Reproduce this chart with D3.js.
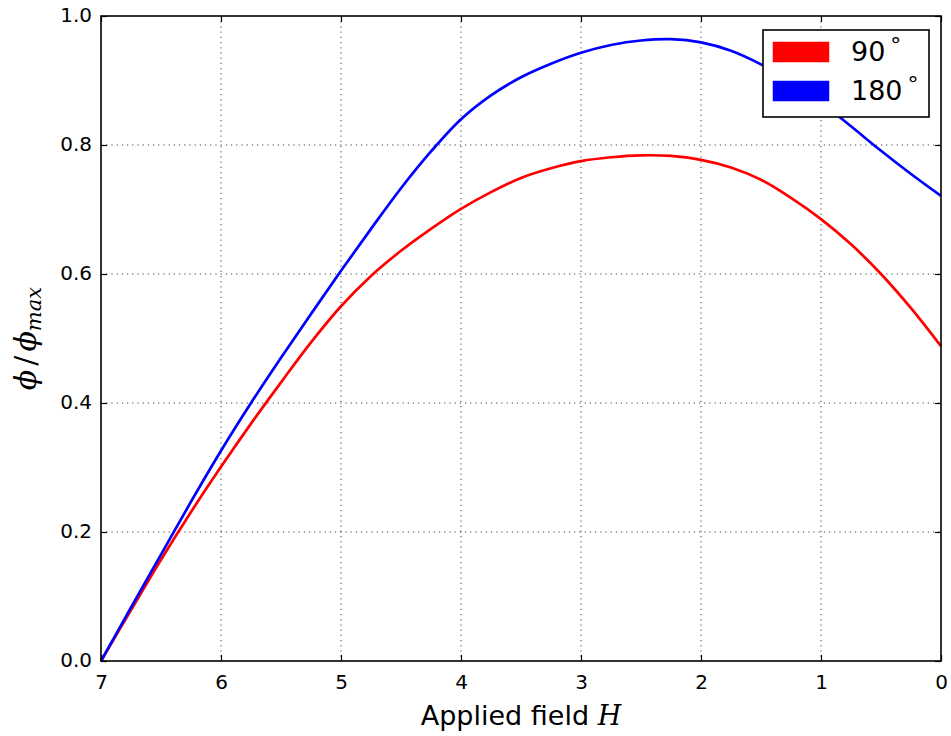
<!DOCTYPE html>
<html>
<head>
<meta charset="utf-8">
<script src="https://cdn.jsdelivr.net/npm/d3@7"></script>
<style>
  html, body { margin: 0; padding: 0; background: #fff; }
  svg { display: block; }
</style>
</head>
<body>
<svg id="chart" width="951" height="736"></svg>
<script>
// Applied field values (the axis runs from 7 down to 0)
const appliedField = [7, 6.75, 6.5, 6.25, 6, 5.75, 5.5, 5.25, 5, 4.75, 4.5, 4.25, 4,
  3.75, 3.5, 3.25, 3, 2.75, 2.5, 2.25, 2, 1.75, 1.5, 1.25, 1, 0.75, 0.5, 0.25, 0];

// Normalised flux for the 90 degree configuration
const phi90 = [0, 0.079, 0.157, 0.231, 0.301, 0.368, 0.432, 0.494, 0.550, 0.597, 0.636,
  0.670, 0.701, 0.727, 0.749, 0.764, 0.775, 0.781, 0.784, 0.783, 0.777, 0.765, 0.746,
  0.718, 0.685, 0.646, 0.600, 0.547, 0.488];

// Normalised flux for the 180 degree configuration
const phi180 = [0, 0.083, 0.165, 0.247, 0.326, 0.400, 0.470, 0.538, 0.605, 0.670, 0.733,
  0.790, 0.840, 0.877, 0.905, 0.926, 0.943, 0.955, 0.962, 0.964, 0.959, 0.946, 0.925,
  0.899, 0.866, 0.829, 0.791, 0.755, 0.721];

const xTicks = [7, 6, 5, 4, 3, 2, 1, 0];
const yTicks = [0, 0.2, 0.4, 0.6, 0.8, 1.0];

const seriesNames = ["90", "180"];
const seriesColors = ["#ff0000", "#0000ff"];

const svg = d3.select("#chart");
const m = { left: 101, right: 941, top: 16, bottom: 661 };

const x = d3.scaleLinear().domain([7, 0]).range([m.left, m.right]);
const y = d3.scaleLinear().domain([0, 1]).range([m.bottom, m.top]);

const tickFont = "DejaVu Sans, sans-serif";
const mathFont = "DejaVu Serif, Liberation Serif, serif";

// Dotted grid
const grid = svg.append("g");
grid.selectAll("line.gx").data(xTicks.slice(1, -1)).join("line")
  .attr("x1", d => x(d)).attr("x2", d => x(d))
  .attr("y1", m.top).attr("y2", m.bottom)
  .attr("stroke", "#000").attr("stroke-width", 1)
  .attr("stroke-dasharray", "1.2,4").attr("opacity", 0.75);
grid.selectAll("line.gy").data(yTicks.slice(1, -1)).join("line")
  .attr("x1", m.left).attr("x2", m.right)
  .attr("y1", d => y(d)).attr("y2", d => y(d))
  .attr("stroke", "#000").attr("stroke-width", 1)
  .attr("stroke-dasharray", "1.2,4").attr("opacity", 0.75);

// Curves
const line = d3.line()
  .x((d, i) => x(appliedField[i]))
  .y(d => y(d))
  .curve(d3.curveCatmullRom.alpha(0.5));

const plot = svg.append("g");
[phi90, phi180].forEach((vals, k) => {
  plot.append("path")
    .datum(vals)
    .attr("d", line)
    .attr("fill", "none")
    .attr("stroke", seriesColors[k])
    .attr("stroke-width", 2.7)
    .attr("stroke-linejoin", "round");
});

// Axes with inward ticks on all four sides
const tickLen = 6;
const bottomAxis = d3.axisBottom(x).tickValues(xTicks).tickFormat(d3.format("d"))
  .tickSizeInner(-tickLen).tickSizeOuter(0).tickPadding(14);
const topAxis = d3.axisTop(x).tickValues(xTicks).tickFormat("")
  .tickSizeInner(-tickLen).tickSizeOuter(0);
const leftAxis = d3.axisLeft(y).tickValues(yTicks).tickFormat(d3.format(".1f"))
  .tickSizeInner(-tickLen).tickSizeOuter(0).tickPadding(9);
const rightAxis = d3.axisRight(y).tickValues(yTicks).tickFormat("")
  .tickSizeInner(-tickLen).tickSizeOuter(0);

function styleAxis(g) {
  g.select(".domain").remove();
  g.selectAll(".tick line").attr("stroke", "#000").attr("stroke-width", 1.2);
  g.selectAll(".tick text").attr("fill", "#000")
    .attr("font-family", tickFont).attr("font-size", 20);
}

const gb = svg.append("g").attr("transform", `translate(0,${m.bottom})`).call(bottomAxis).call(styleAxis);
gb.selectAll(".tick text").attr("dy", "0.71em");
svg.append("g").attr("transform", `translate(0,${m.top})`).call(topAxis).call(styleAxis);
const gl = svg.append("g").attr("transform", `translate(${m.left},0)`).call(leftAxis).call(styleAxis);
gl.selectAll(".tick text").attr("dy", "0.25em");
svg.append("g").attr("transform", `translate(${m.right},0)`).call(rightAxis).call(styleAxis);

// Frame
svg.append("rect")
  .attr("x", m.left).attr("y", m.top)
  .attr("width", m.right - m.left).attr("height", m.bottom - m.top)
  .attr("fill", "none").attr("stroke", "#000").attr("stroke-width", 1.6);

// X axis label
const xl = svg.append("text")
  .attr("x", (m.left + m.right) / 2).attr("y", 725)
  .attr("text-anchor", "middle")
  .attr("font-family", tickFont).attr("font-size", 27).attr("fill", "#000");
xl.append("tspan").text("Applied field ");
xl.append("tspan").attr("font-family", mathFont).attr("font-style", "italic").text("H");

// Y axis label
const yl = svg.append("text")
  .attr("transform", `translate(36,${(m.top + m.bottom) / 2}) rotate(-90)`)
  .attr("text-anchor", "middle")
  .attr("font-family", mathFont).attr("font-size", 30).attr("fill", "#000");
yl.append("tspan").attr("font-style", "italic").text("ϕ");
yl.append("tspan").attr("dx", 4).text("/");
yl.append("tspan").attr("dx", 4).attr("font-style", "italic").text("ϕ");
yl.append("tspan").attr("font-style", "italic").attr("font-size", 21).attr("dy", 5).text("max");

// Legend
const legend = svg.append("g");
legend.append("rect")
  .attr("x", 763).attr("y", 30).attr("width", 166).attr("height", 87)
  .attr("fill", "#fff").attr("stroke", "#000").attr("stroke-width", 1.6);
seriesNames.forEach((name, k) => {
  const rowY = 42 + k * 39;
  legend.append("rect")
    .attr("x", 773).attr("y", rowY).attr("width", 56).attr("height", 20)
    .attr("fill", seriesColors[k]).attr("stroke", seriesColors[k]).attr("stroke-width", 0.5);
  const t = legend.append("text")
    .attr("x", 851).attr("y", rowY + 19)
    .attr("font-family", tickFont).attr("font-size", 27).attr("fill", "#000");
  t.append("tspan").text(name);
  t.append("tspan").attr("font-size", 22).attr("dx", 5).attr("dy", -8).text("°");
});
</script>
</body>
</html>
